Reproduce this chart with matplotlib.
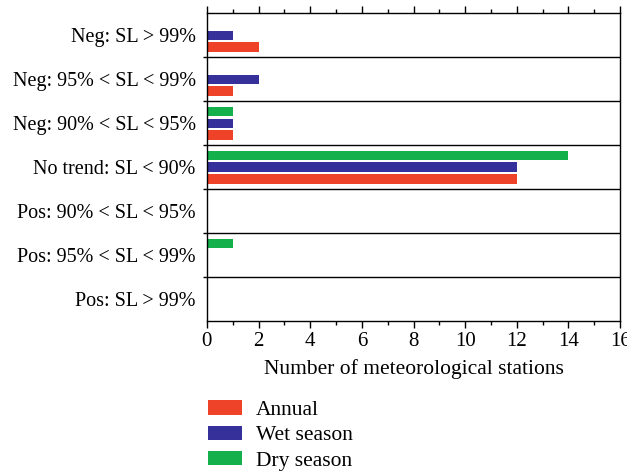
import matplotlib
matplotlib.use("Agg")
import matplotlib.pyplot as plt
import numpy as np
from matplotlib.ticker import MultipleLocator, FixedLocator, NullFormatter

plt.rcParams["font.family"] = ["Liberation Serif", "DejaVu Serif"]

categories = [
    "Neg: SL > 99%",
    "Neg: 95% < SL < 99%",
    "Neg: 90% < SL < 95%",
    "No trend: SL < 90%",
    "Pos: 90% < SL < 95%",
    "Pos: 95% < SL < 99%",
    "Pos: SL > 99%",
]
annual = [2, 1, 1, 12, 0, 0, 0]
wet_season = [1, 2, 1, 12, 0, 0, 0]
dry_season = [0, 0, 1, 14, 0, 1, 0]

colors = {"Annual": "#ee4329", "Wet season": "#35309a", "Dry season": "#13b04b"}

fig = plt.figure(figsize=(6.27, 4.72), dpi=100)
ax = fig.add_axes([0.330, 0.320, 0.659, 0.652])

y = np.arange(len(categories))
step = 0.27
bar_h = 0.21
# rows go top to bottom, so dry sits above wet, annual below
ax.barh(y - step, dry_season, height=bar_h, color=colors["Dry season"], label="Dry season")
ax.barh(y, wet_season, height=bar_h, color=colors["Wet season"], label="Wet season")
ax.barh(y + step, annual, height=bar_h, color=colors["Annual"], label="Annual")

ax.set_ylim(len(categories) - 0.5, -0.5)
ax.set_xlim(0, 16)

# separators between categories
for b in np.arange(0.5, len(categories) - 0.5):
    ax.axhline(b, color="black", lw=1.0, zorder=0)

ax.yaxis.set_major_locator(FixedLocator(np.arange(0.5, len(categories) - 0.5)))
ax.yaxis.set_major_formatter(NullFormatter())
ax.yaxis.set_minor_locator(FixedLocator(y))
ax.set_yticklabels(categories, minor=True)
ax.tick_params(axis="y", which="major", direction="out", length=3, width=1)
ax.tick_params(axis="y", which="minor", length=0, pad=8, labelsize=14.5)

ax.xaxis.set_major_locator(MultipleLocator(2))
ax.xaxis.set_minor_locator(MultipleLocator(1))
ax.tick_params(axis="x", which="both", direction="out", top=True, width=1, labelsize=15)
ax.tick_params(axis="x", which="major", length=5, pad=3)
ax.tick_params(axis="x", which="minor", length=3)

for s in ax.spines.values():
    s.set_linewidth(1.0)

ax.set_xlabel("Number of meteorological stations", fontsize=15.5, labelpad=6)

handles, labels = ax.get_legend_handles_labels()
order = [2, 1, 0]
fig.legend(
    [handles[i] for i in order],
    [labels[i] for i in order],
    loc="upper left",
    bbox_to_anchor=(0.332, 0.152),
    frameon=False,
    fontsize=15.5,
    handlelength=1.55,
    handleheight=0.65,
    handletextpad=0.65,
    labelspacing=0.26,
    borderaxespad=0,
    borderpad=0,
)

fig.savefig("out.png", dpi=100)
